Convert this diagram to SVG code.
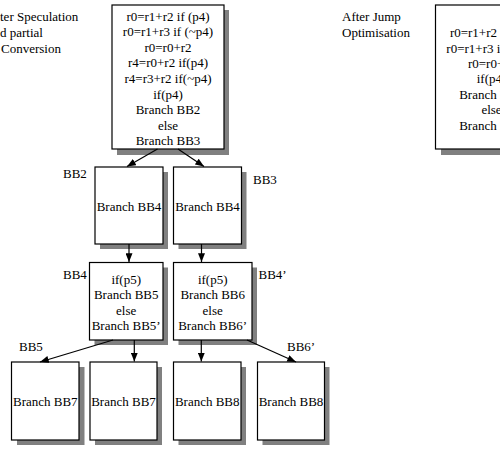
<svg xmlns="http://www.w3.org/2000/svg" width="500" height="452" viewBox="0 0 500 452">
<style>
text{font-family:"Liberation Serif","Times New Roman",serif;font-size:13px;fill:#000}
.c{text-anchor:middle}
.box{fill:#fff;stroke:#000;stroke-width:1.2}
.sh{fill:#808080}
.ln{stroke:#000;stroke-width:1.2;fill:none;marker-end:url(#ah)}
</style>
<defs>
<marker id="ah" viewBox="0 0 10 8" refX="10" refY="4" markerWidth="9" markerHeight="7" markerUnits="userSpaceOnUse" orient="auto">
<path d="M0,0 L10,4 L0,8 z" fill="#000"/>
</marker>
</defs>
<rect width="500" height="452" fill="#fff"/>
<g id="labels">
<text x="0" y="20.5">ter Speculation</text>
<text x="0" y="36.5">d partial</text>
<text x="1" y="52.5">Conversion</text>
<text x="342" y="21">After Jump</text>
<text x="342" y="37">Optimisation</text>
<text x="63" y="178">BB2</text>
<text x="253" y="184">BB3</text>
<text x="63" y="278.5">BB4</text>
<text x="258.5" y="278.5">BB4’</text>
<text x="19" y="351">BB5</text>
<text x="287" y="351">BB6’</text>
</g>
<g id="BB1">
<rect class="sh" x="117" y="10" width="112" height="145"/>
<rect class="box" x="112" y="5" width="112" height="144"/>
<text class="c" x="168" y="20.5">r0=r1+r2 if (p4)</text>
<text class="c" x="168" y="36.1">r0=r1+r3 if (~p4)</text>
<text class="c" x="168" y="51.7">r0=r0+r2</text>
<text class="c" x="168" y="67.3">r4=r0+r2 if(p4)</text>
<text class="c" x="168" y="82.9">r4=r3+r2 if(~p4)</text>
<text class="c" x="168" y="98.5">if(p4)</text>
<text class="c" x="168" y="114.1">Branch BB2</text>
<text class="c" x="168" y="129.7">else</text>
<text class="c" x="168" y="145.3">Branch BB3</text>
</g>
<g id="BB1opt">
<rect class="sh" x="441" y="10" width="112" height="145"/>
<rect class="box" x="435.5" y="5" width="112" height="144"/>
<text class="c" x="491.5" y="37.2">r0=r1+r2 if (p4)</text>
<text class="c" x="491.5" y="52.6">r0=r1+r3 if (~p4)</text>
<text class="c" x="491.5" y="68">r0=r0+r2</text>
<text class="c" x="491.5" y="83.4">if(p4)</text>
<text class="c" x="491.5" y="98.8">Branch BB2</text>
<text class="c" x="491.5" y="114.2">else</text>
<text class="c" x="491.5" y="129.6">Branch BB3</text>
</g>
<g id="BB2">
<rect class="sh" x="100" y="172" width="68" height="77"/>
<rect class="box" x="95" y="167" width="68" height="77"/>
<text class="c" x="129" y="211">Branch BB4</text>
</g>
<g id="BB3">
<rect class="sh" x="178.5" y="172" width="68" height="77"/>
<rect class="box" x="173.5" y="167" width="68" height="77"/>
<text class="c" x="207.5" y="211">Branch BB4</text>
</g>
<g id="BB4">
<rect class="sh" x="94.5" y="267.5" width="73.5" height="77.5"/>
<rect class="box" x="89.5" y="262.5" width="73.5" height="77.5"/>
<text class="c" x="126.2" y="284">if(p5)</text>
<text class="c" x="126.2" y="299.2">Branch BB5</text>
<text class="c" x="126.2" y="314.6">else</text>
<text class="c" x="126.2" y="330">Branch BB5’</text>
</g>
<g id="BB4p">
<rect class="sh" x="178.5" y="267.5" width="78.5" height="77.5"/>
<rect class="box" x="173.5" y="262.5" width="78.5" height="77.5"/>
<text class="c" x="212.7" y="284">if(p5)</text>
<text class="c" x="212.7" y="299.2">Branch BB6</text>
<text class="c" x="212.7" y="314.6">else</text>
<text class="c" x="212.7" y="330">Branch BB6’</text>
</g>
<g id="BB5">
<rect class="sh" x="17" y="367" width="67.5" height="78"/>
<rect class="box" x="11.5" y="362" width="67.5" height="78"/>
<text class="c" x="45.3" y="406">Branch BB7</text>
</g>
<g id="BB5p">
<rect class="sh" x="95" y="367" width="67" height="78"/>
<rect class="box" x="90" y="362" width="67" height="78"/>
<text class="c" x="123.5" y="406">Branch BB7</text>
</g>
<g id="BB6">
<rect class="sh" x="178.5" y="367" width="67.5" height="78"/>
<rect class="box" x="173.5" y="362" width="67.5" height="78"/>
<text class="c" x="207.2" y="406">Branch BB8</text>
</g>
<g id="BB6p">
<rect class="sh" x="262.5" y="367" width="67" height="78"/>
<rect class="box" x="257.5" y="362" width="67" height="78"/>
<text class="c" x="291" y="406">Branch BB8</text>
</g>
<g id="connectors">
<line class="ln" x1="157.5" y1="149" x2="127" y2="166.5"/>
<line class="ln" x1="178" y1="149" x2="204" y2="166.5"/>
<line class="ln" x1="129" y1="244" x2="129" y2="262"/>
<line class="ln" x1="201.5" y1="244" x2="201.5" y2="262"/>
<line class="ln" x1="113" y1="340" x2="40" y2="362"/>
<line class="ln" x1="134.3" y1="340" x2="134.3" y2="361.5"/>
<line class="ln" x1="201.3" y1="340" x2="201.3" y2="361.5"/>
<line class="ln" x1="247" y1="340" x2="296" y2="362"/>
</g>
</svg>
